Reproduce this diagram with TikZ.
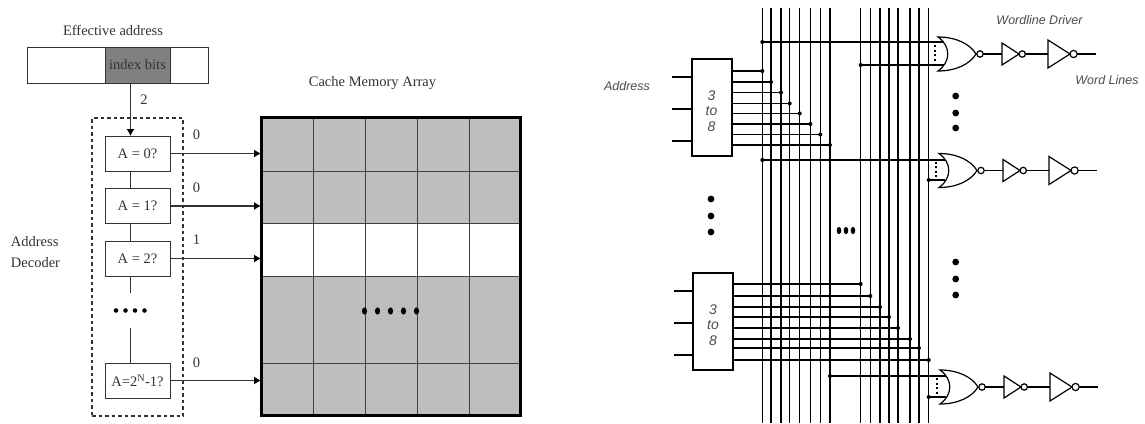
\documentclass[tikz,border=0pt]{standalone}
\usepackage{fontspec}
\setmainfont{Liberation Serif}
\newfontfamily\wirefont{Liberation Sans}
\usetikzlibrary{arrows.meta}
\definecolor{ink}{HTML}{333333}
\definecolor{cellgray}{HTML}{BEBEBE}
\definecolor{indexgray}{HTML}{808080}
\tikzset{
  thinline/.style={draw=ink,line width=1pt},
  testbox/.style={thinline,minimum width=65pt,minimum height=35pt,inner sep=0pt,outer sep=0pt,fill=white,text=ink,font=\fontsize{14.5}{16}\selectfont},
  lbl/.style={text=ink,inner sep=0pt,font=\fontsize{14.5}{21}\selectfont},
  feed/.style={draw=ink,line width=1.2pt,-{Latex[length=7pt,width=8pt,color=black]}},
  cellline/.style={draw=black!75,line width=0.9pt},
  wire/.style={draw=black,line width=1.2pt},
  busline/.style={draw=black,line width=1.2pt},
  decbox/.style={draw=black,line width=1.3pt,minimum width=40pt,minimum height=97pt,inner sep=0pt,outer sep=0pt,fill=white},
  islbl/.style={inner sep=0pt,text=black!70,font=\wirefont\itshape\fontsize{12.5}{14}\selectfont},
  dectext/.style={inner sep=0pt,text=black!70,align=center,font=\wirefont\itshape\fontsize{14}{15.5}\selectfont},
  wl/.pic={
    \draw[wire] (0,-17) .. controls (18,-17) and (32,-10) .. (38,0)
      .. controls (32,10) and (18,17) .. (0,17)
      .. controls (13,8) and (13,-8) .. (0,-17) -- cycle;
    \draw[wire] (42,0) circle[radius=3.2pt];
    \draw[wire] (45.2,0) -- (64,0);
    \draw[wire] (64,-11) -- (81,0) -- (64,11) -- cycle;
    \draw[wire] (84.2,0) circle[radius=3.2pt];
    \draw[wire] (87.4,0) -- (110,0);
    \draw[wire] (110,-14) -- (132,0) -- (110,14) -- cycle;
    \draw[wire] (135.6,0) circle[radius=3.6pt];
    \draw[wire] (139.2,0) -- (158,0);
    \draw[draw=black,line width=1.1pt,dash pattern=on 2pt off 2.6pt] (-3,-9) -- (-3,8);
  }
}
\begin{document}
\begin{tikzpicture}[x=1pt,y=-1pt]
\useasboundingbox[fill=white] (0,0) rectangle (1145,423);
% ---------- left: effective address
\node[lbl] (ea) at (113,30) {Effective address};
\node[thinline,minimum width=181pt,minimum height=36pt,inner sep=0pt,outer sep=0pt] (addr) at (117.5,65) {};
\node[thinline,fill=indexgray,minimum width=65pt,minimum height=36pt,inner sep=0pt,outer sep=0pt,text=ink,font=\fontsize{14.5}{16}\selectfont] (idx) at (137.5,65) {index bits};
\node[draw=ink,line width=1.1pt,dash pattern=on 3.5pt off 3pt,minimum width=91pt,minimum height=298pt,inner sep=0pt] (decoder) at (137.5,267) {};
\node[testbox] (a0) at (137.5,153.5) {A = 0?};
\node[testbox] (a1) at (137.5,206) {A = 1?};
\node[testbox] (a2) at (137.5,258.5) {A = 2?};
\node[testbox] (an) at (137.5,380.5) {A=2\textsuperscript{N}-1?};
\coordinate (gapa) at (130.5,293);
\coordinate (gapb) at (130.5,328);
\draw[feed] (idx.south -| a0.north) ++(-7,0) coordinate (tapin) -- (tapin |- a0.north);
\node[lbl] (two) at (144,100) {2};
\draw[thinline] (tapin |- a0.south) -- (tapin |- a1.north);
\draw[thinline] (tapin |- a1.south) -- (tapin |- a2.north);
\draw[thinline] (tapin |- a2.south) -- (gapa);
\draw[thinline] (gapb) -- (tapin |- an.north);
\foreach \x in {116,125.5,135,144.5} \fill[black] (\x,310.5) circle[radius=2.3pt];
\node[lbl,align=left] (addec) at (35.5,252.5) {Address\\Decoder};
% ---------- left: array
\node[lbl] (cachetitle) at (372.5,83) {Cache Memory Array};
\node[fill=cellgray,minimum width=259pt,minimum height=298pt,inner sep=0pt,outer sep=0pt] (arr) at (390.5,266.5) {};
\fill[white] (arr.west |- 0,223) rectangle (arr.east |- 0,276);
\foreach \y in {171,223,276,363} \draw[cellline] (arr.west |- 0,\y) -- (arr.east |- 0,\y);
\foreach \x in {313,365,417,469} \draw[cellline] (\x,0 |- arr.north) -- (\x,0 |- arr.south);
\draw[draw=black,line width=3pt] (arr.south west) rectangle (arr.north east);
\foreach \x in {364.5,377.5,390.5,403.5,416.5} \fill[black] (\x,311) ellipse[x radius=2.6pt,y radius=3.6pt];
\foreach \n/\v/\ly in {a0/0/135,a1/0/188,a2/1/240,an/0/363}{
  \draw[feed] (\n.east) -- (\n.east -| arr.west);
  \node[lbl] (val\n) at (196.5,\ly) {\v};
}
% ---------- right: bit lines
\foreach \i/\x in {1/762.3,2/771,3/781,4/789.7,5/799.7,6/810.3,7/820.3,8/830,9/860.7,10/870.3,11/880,12/889,13/898,14/910,15/919,16/928.7}{
  \coordinate (bt\i) at (\x,7.5);
  \coordinate (bb\i) at (\x,423);
  \draw[busline] (bt\i) -- (bb\i);
}
% decoders
\node[decbox] (dec1) at (712,107.5) {};
\node[dectext] (dec1t) at (711.5,111) {3\\to\\8};
\node[decbox] (dec2) at (713,321.5) {};
\node[dectext] (dec2t) at (713,325) {3\\to\\8};
\foreach \y in {77,109,141}{
  \coordinate (ia) at (672,\y);
  \draw[wire] (ia) -- (ia -| dec1.west);
}
\foreach \y in {291,323,355}{
  \coordinate (ib) at (674,\y);
  \draw[wire] (ib) -- (ib -| dec2.west);
}
\foreach \i/\y in {1/71,2/82,3/92.5,4/103.5,5/113.5,6/124,7/134.5,8/145}{
  \coordinate (oa) at (dec1.east |- 0,\y);
  \draw[wire] (oa) -- (oa -| bt\i) coordinate (ja);
  \fill[black] (ja) circle[radius=2pt];
}
\foreach \j/\y [evaluate=\j as \k using int(\j+8)] in {1/284,2/296,3/307,4/317,5/328,6/339,7/348,8/360}{
  \coordinate (ob) at (dec2.east |- 0,\y);
  \draw[wire] (ob) -- (ob -| bt\k) coordinate (jb);
  \fill[black] (jb) circle[radius=2pt];
}
% gates
\pic (g1) at (938,54) {wl};
\pic (g2) at (939,170.5) {wl};
\pic (g3) at (940,387) {wl};
\coordinate (g1a) at (944,42);
\coordinate (g1b) at (944,65);
\coordinate (g2a) at (945,160);
\coordinate (g2b) at (945,180);
\coordinate (g3a) at (946,376);
\coordinate (g3b) at (946,397);
\foreach \g/\b in {g1a/bt1,g1b/bt9,g2a/bt1,g2b/bt16,g3a/bt8,g3b/bt16}{
  \draw[wire] (\g -| \b) -- (\g);
  \fill[black] (\g -| \b) circle[radius=2pt];
}
% ellipsis dots
\foreach \y in {199,216,232} \fill[black] (711,\y) circle[radius=3.4pt];
\foreach \y in {96,113,128} \fill[black] (955.7,\y) circle[radius=3.4pt];
\foreach \y in {262,279,295} \fill[black] (955.7,\y) circle[radius=3.4pt];
\foreach \x in {839,846,853} \fill[black] (\x,230.5) ellipse[x radius=2.3pt,y radius=3.6pt];
% labels
\node[islbl] (addrl) at (627,86) {Address};
\node[islbl] (wld) at (1039.5,20) {Wordline Driver};
\node[islbl] (wls) at (1107,80) {Word Lines};
\end{tikzpicture}
\end{document}
